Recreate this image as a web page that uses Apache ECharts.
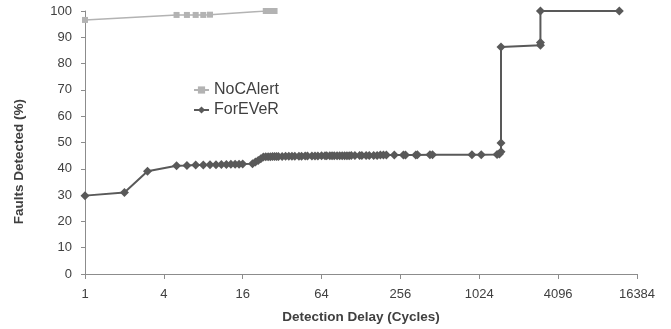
<!DOCTYPE html>
<html>
<head>
<meta charset="utf-8">
<script src="https://cdn.jsdelivr.net/npm/echarts@6/dist/echarts.min.js"></script>
<style>
  html, body { margin: 0; padding: 0; background: #fff; }
  #chart { width: 671px; height: 329px; }
</style>
</head>
<body>
<div id="chart"></div>
<script>
// detection delay (cycles) vs faults detected (%)
const noCAlertX = [1, 5, 6, 7, 8, 9, 24, 25, 26, 27, 28];
const noCAlertY = [96.6, 98.5, 98.5, 98.5, 98.5, 98.6, 100, 100, 100, 100, 100];

const forEVeRX = [1, 2, 3, 5, 6, 7, 8, 9, 10, 11, 12, 13, 14, 15, 16, 19, 20, 21, 22, 23,
  24, 25, 26, 27, 28, 29, 30, 32, 34, 36, 38, 40, 43, 45, 48, 50, 54, 57, 60, 64,
  68, 70, 74, 77, 80, 84, 88, 92, 96, 100, 104, 108, 115, 125, 130, 140, 148, 160, 170, 180,
  190, 200, 230, 270, 280, 335, 345, 430, 450, 900, 1060, 1400, 1460, 1500, 1500, 1500, 3000, 3000, 3000, 12000];
const forEVeRY = [29.8, 31, 39.1, 41.2, 41.3, 41.4, 41.4, 41.5, 41.5, 41.6, 41.6, 41.7, 41.7, 41.7, 41.8, 41.9, 42.6, 43.2, 43.8, 44.5,
  44.6, 44.6, 44.6, 44.7, 44.7, 44.7, 44.7, 44.7, 44.8, 44.8, 44.8, 44.8, 44.8, 44.8, 44.9, 44.9, 44.9, 44.9, 44.9, 45,
  45, 45, 45, 45, 45, 45, 45, 45, 45, 45, 45, 45.1, 45.1, 45.1, 45.1, 45.1, 45.1, 45.1, 45.1, 45.2,
  45.2, 45.2, 45.2, 45.2, 45.2, 45.2, 45.3, 45.3, 45.3, 45.3, 45.3, 45.4, 45.6, 46.5, 49.8, 86.3, 87, 88, 100, 100];

const xTicks = [1, 4, 16, 64, 256, 1024, 4096, 16384];

const zip = (xs, ys) => xs.map((x, i) => [x, ys[i]]);

const chart = echarts.init(document.getElementById('chart'));
const font = '"Liberation Sans", Arial, sans-serif';
const axisColor = '#8c8c8c';

chart.setOption({
  animation: false,
  textStyle: { fontFamily: font },
  grid: { left: 85, right: 34, top: 11, bottom: 53 },
  legend: {
    orient: 'vertical',
    left: 188,
    top: 77,
    itemWidth: 15,
    itemHeight: 9,
    itemGap: 4,
    textStyle: { fontSize: 16, color: '#404040', lineHeight: 16, fontFamily: font },
    data: ['NoCAlert', 'ForEVeR']
  },
  graphic: [{
    type: 'text',
    left: 12,
    top: 99,
    rotation: Math.PI / 2,
    style: {
      text: 'Faults Detected (%)',
      font: 'bold 13.5px ' + font,
      fill: '#404040'
    }
  }],
  xAxis: {
    type: 'log',
    logBase: 2,
    min: 1,
    max: 16384,
    interval: 2,
    name: 'Detection Delay (Cycles)',
    nameLocation: 'middle',
    nameGap: 36,
    nameTextStyle: { fontSize: 13.5, fontWeight: 'bold', color: '#404040' },
    axisLine: { show: true, lineStyle: { color: axisColor, width: 1 } },
    axisTick: { show: true, length: 5, lineStyle: { color: axisColor } },
    minorTick: { show: false },
    splitLine: { show: false },
    axisLabel: {
      fontSize: 13,
      color: '#404040',
      margin: 14,
      formatter: v => {
        const r = Math.round(v);
        return xTicks.includes(r) ? String(r) : '';
      }
    }
  },
  yAxis: {
    type: 'value',
    min: 0,
    max: 100,
    interval: 10,
    axisLine: { show: true, lineStyle: { color: axisColor, width: 1 } },
    axisTick: { show: true, length: 4, lineStyle: { color: axisColor } },
    splitLine: { show: false },
    axisLabel: { fontSize: 13, color: '#404040', margin: 13 }
  },
  series: [
    {
      name: 'NoCAlert',
      type: 'line',
      data: zip(noCAlertX, noCAlertY),
      symbol: 'rect',
      symbolSize: 6,
      lineStyle: { width: 1.5, color: '#b3b3b3' },
      itemStyle: { color: '#b3b3b3' }
    },
    {
      name: 'ForEVeR',
      type: 'line',
      data: zip(forEVeRX, forEVeRY),
      symbol: 'diamond',
      symbolSize: 9,
      lineStyle: { width: 2, color: '#595959' },
      itemStyle: { color: '#595959' }
    }
  ]
});
</script>
</body>
</html>
